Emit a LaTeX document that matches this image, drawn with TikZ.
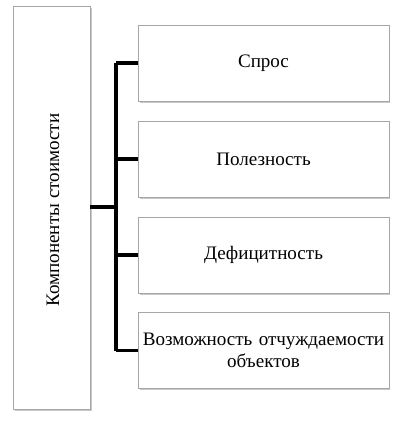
\documentclass[tikz,border=0pt]{standalone}
\usepackage{fontspec}
\setmainfont{Liberation Serif}
\usetikzlibrary{positioning,shadows}

\begin{document}
\begin{tikzpicture}[
  x=0.75pt, y=-0.75pt,
  font=\fontsize{14.3}{16.5}\selectfont,
  box/.style={draw=gray!70, fill=white, align=center, inner sep=2pt,
              minimum width=186.75pt, minimum height=57pt, text width=184pt,
              drop shadow={shadow xshift=1.2pt, shadow yshift=-1.2pt, fill=gray!60, opacity=0.7}},
  mainbox/.style={draw=gray!70, fill=white, align=center, inner sep=2pt,
              minimum width=57.75pt, minimum height=302.25pt,
              drop shadow={shadow xshift=1.2pt, shadow yshift=-1.2pt, fill=gray!60, opacity=0.7}},
  link/.style={line width=2.3pt},
]
\useasboundingbox (0,0) rectangle (407,423);

\node[mainbox] (main) at (51.5,207.5) {};
\node[rotate=90] (maintext) at (53,210) {Компоненты стоимости};

\node[box] (b1) at (263.5,63) {\raisebox{-2pt}{Спрос}};
\node[box] (b2) at (263.5,159) {\raisebox{-2pt}{Полезность}};
\node[box] (b3) at (263.5,255) {\raisebox{-2pt}{Дефицитность}};
\node[box] (b4) at (263.5,350.5) {Возможность отчуждаемости\\объектов};

\coordinate (hub) at (116,207);
\draw[link] (main.east |- hub) -- (hub);
\draw[link] (hub |- b1.west) -- (hub |- b4.west);
\foreach \b in {b1,b2,b3,b4}
  \draw[link] (hub |- \b.west) -- (\b.west);

\end{tikzpicture}
\end{document}
